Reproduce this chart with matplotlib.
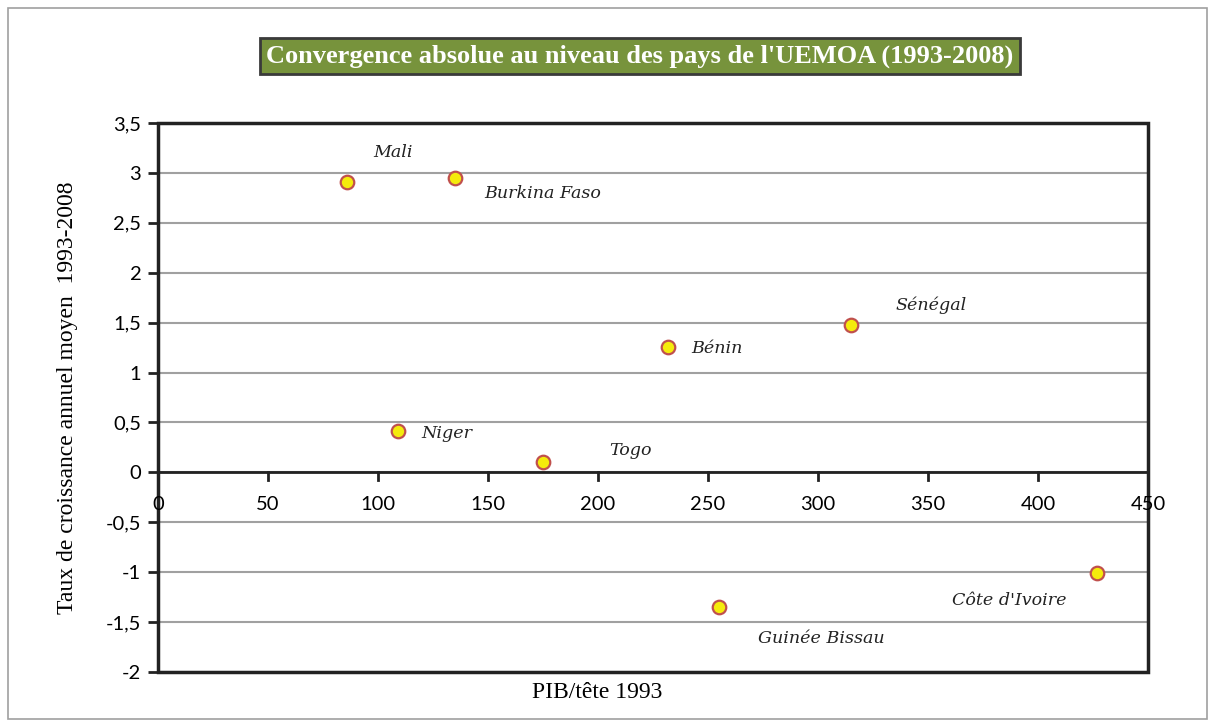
import matplotlib.pyplot as plt
from matplotlib.patches import Rectangle
from matplotlib.ticker import FuncFormatter, MultipleLocator

# PIB par tête 1993 et taux de croissance annuel moyen 1993-2008
pays = ["Mali", "Burkina Faso", "Bénin", "Sénégal", "Niger", "Togo",
        "Guinée Bissau", "Côte d'Ivoire"]
pib_1993 = [86, 135, 232, 315, 109, 175, 255, 427]
croissance = [2.91, 2.95, 1.26, 1.48, 0.41, 0.10, -1.35, -1.01]

# décalage des étiquettes (pixels) par rapport au point
decalages = {
    "Mali": (26, 29),
    "Burkina Faso": (29, -16),
    "Bénin": (23, -2),
    "Sénégal": (45, 19),
    "Niger": (24, -2),
    "Togo": (66, 12),
    "Guinée Bissau": (39, -31),
    "Côte d'Ivoire": (-145, -27),
}

fig = plt.figure(figsize=(12.15, 7.27), dpi=100)
fig.patches.append(Rectangle((8 / 1215, 8 / 727), 1199 / 1215, 711 / 727,
                             transform=fig.transFigure, fill=False,
                             edgecolor='#a0a0a0', linewidth=1.2))

ax = fig.add_axes([158 / 1215, 1 - 672 / 727, 990 / 1215, 549 / 727])
ax.set_xlim(0, 450)
ax.set_ylim(-2, 3.5)

# grille horizontale grise
ax.yaxis.set_major_locator(MultipleLocator(0.5))
ax.xaxis.set_major_locator(MultipleLocator(50))
ax.grid(axis='y', color='#a0a0a0', linewidth=1.5, zorder=0)
ax.set_axisbelow(True)

# axe des x qui passe par y = 0
for s in ['top', 'right', 'bottom']:
    ax.spines[s].set_visible(False)
ax.spines['left'].set_linewidth(2)
ax.spines['left'].set_color('#222222')
ax.axhline(0, color='#222222', linewidth=2, zorder=1)
ax.add_patch(Rectangle((0, 0), 1, 1, transform=ax.transAxes, fill=False,
                       edgecolor='#222222', linewidth=2.5, clip_on=False,
                       zorder=3))

comma = FuncFormatter(lambda v, p: f"{v:g}".replace('.', ','))
ax.yaxis.set_major_formatter(comma)
ax.tick_params(axis='y', direction='out', length=7, width=2, color='#222222',
               labelsize=14.5, pad=5)
ax.tick_params(axis='x', length=0, labelbottom=False)
for lab in ax.get_yticklabels():
    lab.set_fontfamily('Lato')

# graduations et étiquettes de l'axe des x le long de y = 0
for v in range(0, 451, 50):
    if 0 < v < 450:
        ax.plot([v, v], [0, -0.08], color='#222222', linewidth=2,
                clip_on=False, zorder=2)
    ax.annotate(str(v), (v, 0), xytext=(0, -17), textcoords='offset points',
                ha='center', va='top', fontsize=14.5, family='Lato',
                annotation_clip=False)

ax.scatter(pib_1993, croissance, s=95, color='#f5eb0c', edgecolors='#c0504d',
           linewidths=1.6, zorder=4)
for nom, xv, yv in zip(pays, pib_1993, croissance):
    dx, dy = decalages[nom]
    ax.annotate(nom, (xv, yv), xytext=(dx, dy), textcoords='offset pixels',
                ha='left', va='center', fontsize=12.6, style='italic',
                family='DejaVu Serif', color='#222222')

ax.set_ylabel("Taux de croissance annuel moyen  1993-2008", family='Liberation Serif',
              fontsize=17, labelpad=20)
fig.text(597 / 1215, 1 - 693 / 727, "PIB/tête 1993", family='Liberation Serif',
         fontsize=17, ha='center', va='center')

fig.text(640 / 1215, 1 - 56 / 727,
         "Convergence absolue au niveau des pays de l'UEMOA (1993-2008)",
         family='Liberation Serif', fontweight='bold', fontsize=19, color='white',
         ha='center', va='center',
         bbox=dict(boxstyle='square,pad=0.25', facecolor='#77933c',
                   edgecolor='#3a3a3a', linewidth=2))

fig.savefig('out.png', dpi=100)
